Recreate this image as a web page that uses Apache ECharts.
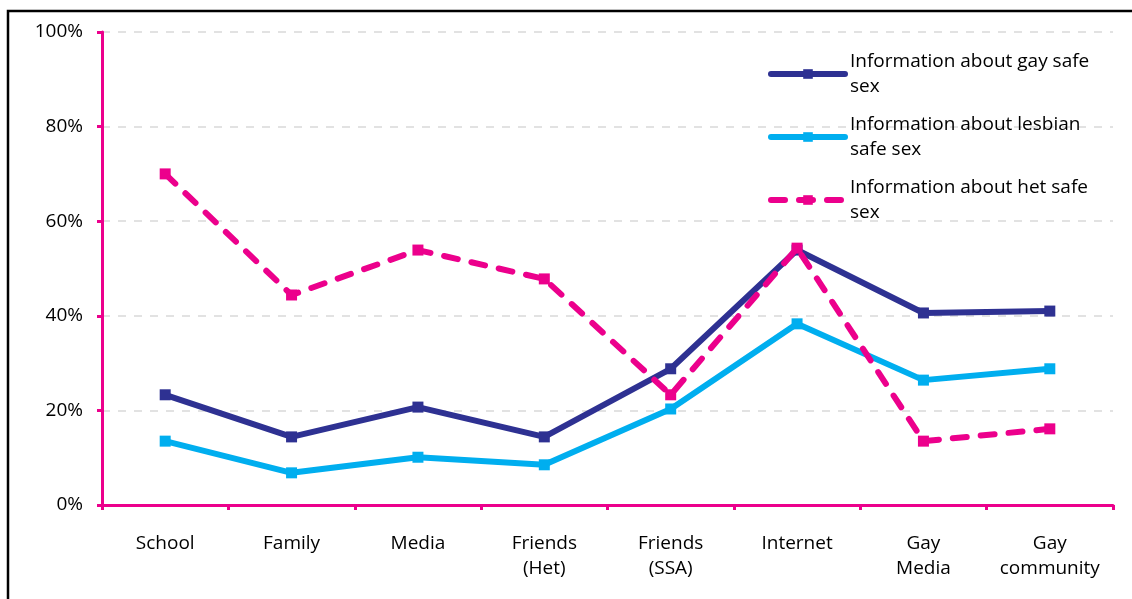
<!DOCTYPE html>
<html>
<head>
<meta charset="utf-8">
<script src="https://cdn.jsdelivr.net/npm/echarts@6/dist/echarts.min.js"></script>
<style>
  html, body { margin: 0; padding: 0; background: #fff; }
  #chartBox { width: 1132px; height: 599px; }
</style>
</head>
<body>
<div id="chartBox"></div>
<script>
// categories along the x axis
const categories = ['School', 'Family', 'Media', 'Friends\n(Het)', 'Friends\n(SSA)', 'Internet', 'Gay\nMedia', 'Gay\ncommunity'];
// percent values
const gayInfo = [23.3, 14.4, 20.7, 14.4, 28.8, 53.9, 40.6, 41.0];
const lesbianInfo = [13.5, 6.8, 10.1, 8.5, 20.3, 38.3, 26.4, 28.8];
const hetInfo = [70.0, 44.4, 53.9, 47.8, 23.3, 54.3, 13.5, 16.1];
const seriesNames = ['Information about gay safe sex', 'Information about lesbian safe sex', 'Information about het safe sex'];
const legendLabels = ['Information about gay safe\nsex', 'Information about lesbian\nsafe sex', 'Information about het safe\nsex'];

const pink = '#EC008C';
const fontName = 'Open Sans';

let myChart = echarts.init(document.getElementById('chartBox'));

function lineSeries(name, data, color, dashed) {
  return {
    name: name,
    type: 'line',
    data: data,
    symbol: 'rect',
    symbolSize: 11,
    showSymbol: true,
    animation: false,
    z: dashed ? 3 : 2,
    itemStyle: { color: color },
    lineStyle: {
      color: color,
      width: 6,
      type: dashed ? [14, 14] : 'solid',
      cap: 'round'
    }
  };
}

let option = {
  animation: false,
  // outer frame
  graphic: [{
    type: 'rect',
    shape: { x: 8, y: 11, width: 1200, height: 700 },
    style: { fill: 'none', stroke: '#000', lineWidth: 2.5 },
    silent: true
  }],
  grid: { left: 102, right: 19, top: 32, bottom: 94 },
  legend: {
    orient: 'vertical',
    left: 763,
    top: 44,
    itemWidth: 74,
    itemHeight: 12,
    itemGap: 13,
    data: seriesNames,
    lineStyle: { width: 6, cap: 'round' },
    formatter: function (name) {
      return legendLabels[seriesNames.indexOf(name)];
    },
    textStyle: { color: '#000', fontSize: 19, fontFamily: fontName, lineHeight: 25 }
  },
  xAxis: {
    type: 'category',
    data: categories,
    boundaryGap: true,
    axisLine: { lineStyle: { color: pink, width: 3 } },
    axisTick: { show: true, length: 5, lineStyle: { color: pink, width: 3 } },
    axisLabel: { color: '#000', fontSize: 19, fontFamily: fontName, lineHeight: 25, margin: 26, interval: 0 },
    splitLine: { show: false }
  },
  yAxis: {
    type: 'value',
    min: 0,
    max: 100,
    interval: 20,
    axisLine: { show: true, lineStyle: { color: pink, width: 3 } },
    axisTick: { show: true, length: 5, lineStyle: { color: pink, width: 3 } },
    axisLabel: { color: '#000', fontSize: 19, fontFamily: fontName, margin: 19, formatter: '{value}%' },
    splitLine: { show: true, lineStyle: { color: '#d9d9d9', type: [8, 8], width: 1.5 } }
  },
  series: [
    lineSeries(seriesNames[0], gayInfo, '#2E3192', false),
    lineSeries(seriesNames[1], lesbianInfo, '#00AEEF', false),
    lineSeries(seriesNames[2], hetInfo, pink, true)
  ]
};
myChart.setOption(option);
</script>
</body>
</html>
